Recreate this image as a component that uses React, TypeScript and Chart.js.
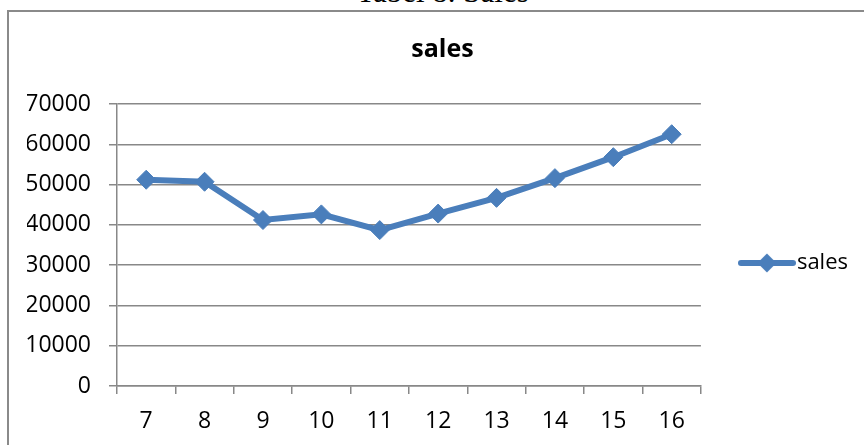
import React, { useEffect, useRef } from "react";
import { Chart, registerables } from "chart.js";

Chart.register(...registerables);

const pageTitle = "Tabel 8. Sales";
const chartTitle = "sales";
const seriesName = "sales";
const categories = ["7", "8", "9", "10", "11", "12", "13", "14", "15", "16"];
const salesValues = [51200, 50700, 41200, 42600, 38700, 42800, 46700, 51600, 56800, 62500];
const yMin = 0;
const yMax = 70000;
const yStep = 10000;

const LINE_COLOR = "#4A7EBB";
const GRID_COLOR = "#888888";
const FONT = "'Open Sans', 'DejaVu Sans', sans-serif";

function makeLegendImage(): HTMLCanvasElement {
  const c = document.createElement("canvas");
  c.width = 58;
  c.height = 22;
  const ctx = c.getContext("2d")!;
  ctx.strokeStyle = LINE_COLOR;
  ctx.lineWidth = 6;
  ctx.lineCap = "round";
  ctx.beginPath();
  ctx.moveTo(3, 11);
  ctx.lineTo(55, 11);
  ctx.stroke();
  ctx.fillStyle = LINE_COLOR;
  ctx.beginPath();
  ctx.moveTo(29, 1.5);
  ctx.lineTo(38.5, 11);
  ctx.lineTo(29, 20.5);
  ctx.lineTo(19.5, 11);
  ctx.closePath();
  ctx.fill();
  return c;
}

export default function App() {
  const ref = useRef<HTMLCanvasElement | null>(null);

  useEffect(() => {
    if (!ref.current) return;
    Chart.defaults.font.family = FONT;
    Chart.defaults.color = "#000";
    const legendImg = makeLegendImage();
    const chart = new Chart(ref.current, {
      type: "line",
      data: {
        labels: categories,
        datasets: [
          {
            label: seriesName,
            data: salesValues,
            borderColor: LINE_COLOR,
            backgroundColor: LINE_COLOR,
            borderWidth: 6,
            pointStyle: "rectRot",
            pointRadius: 9.5,
            pointBorderWidth: 1,
            pointBackgroundColor: LINE_COLOR,
            pointBorderColor: LINE_COLOR,
            tension: 0,
          },
        ],
      },
      options: {
        animation: false,
        responsive: false,
        devicePixelRatio: 1,
        layout: { padding: { left: 27, right: 0, top: 0, bottom: 0 } },
        plugins: {
          tooltip: { enabled: false },
          title: {
            display: true,
            text: chartTitle,
            color: "#000",
            font: { size: 25, weight: "bold", family: FONT },
            padding: { top: 35, bottom: 39 },
          },
          legend: {
            display: true,
            position: "right",
            labels: {
              usePointStyle: true,
              pointStyleWidth: 38,
              padding: 47,
              color: "#000",
              font: { size: 22, family: FONT },
              generateLabels: (ch: any) =>
                Chart.defaults.plugins.legend.labels
                  .generateLabels(ch)
                  .map((l: any) => ({ ...l, pointStyle: legendImg })),
            },
          },
        },
        scales: {
          x: {
            type: "category",
            offset: true,
            afterFit: (s: any) => {
              s.height = 140;
            },
            grid: {
              offset: true,
              drawOnChartArea: false,
              drawTicks: true,
              tickLength: 8,
              color: GRID_COLOR,
              lineWidth: 1.5,
            },
            border: { display: true, color: GRID_COLOR, width: 1.5 },
            ticks: { font: { size: 23, family: FONT }, color: "#000", padding: 14, maxRotation: 0, autoSkip: false },
          },
          y: {
            min: yMin,
            max: yMax,
            afterFit: (s: any) => {
              s.width = 90;
            },
            grid: {
              drawOnChartArea: true,
              drawTicks: true,
              tickLength: 8,
              color: GRID_COLOR,
              lineWidth: 1.5,
            },
            border: { display: true, color: GRID_COLOR, width: 1.5 },
            ticks: {
              stepSize: yStep,
              font: { size: 23, family: FONT },
              color: "#000",
              padding: 18,
              callback: (v: any) => String(v),
            },
          },
        },
      },
    });
    return () => chart.destroy();
  }, []);

  return (
    <div
      style={{
        position: "fixed",
        left: 0,
        top: 0,
        width: 864,
        height: 445,
        overflow: "hidden",
        background: "#fff",
      }}
    >
      <div
        style={{
          position: "absolute",
          left: 0,
          width: 885,
          top: -24,
          lineHeight: "31px",
          fontSize: 31,
          fontFamily: "'Liberation Serif', 'Times New Roman', serif",
          textAlign: "center",
          color: "#000",
          whiteSpace: "nowrap",
        }}
      >
        {pageTitle}
      </div>
      <div
        style={{
          position: "absolute",
          left: 7,
          top: 10,
          width: 1000,
          height: 1000,
          border: "2px solid #8a8a8a",
        }}
      />
      <canvas
        ref={ref}
        width={858}
        height={526}
        style={{ position: "absolute", left: 0, top: 0, width: 858, height: 526 }}
      />
    </div>
  );
}
